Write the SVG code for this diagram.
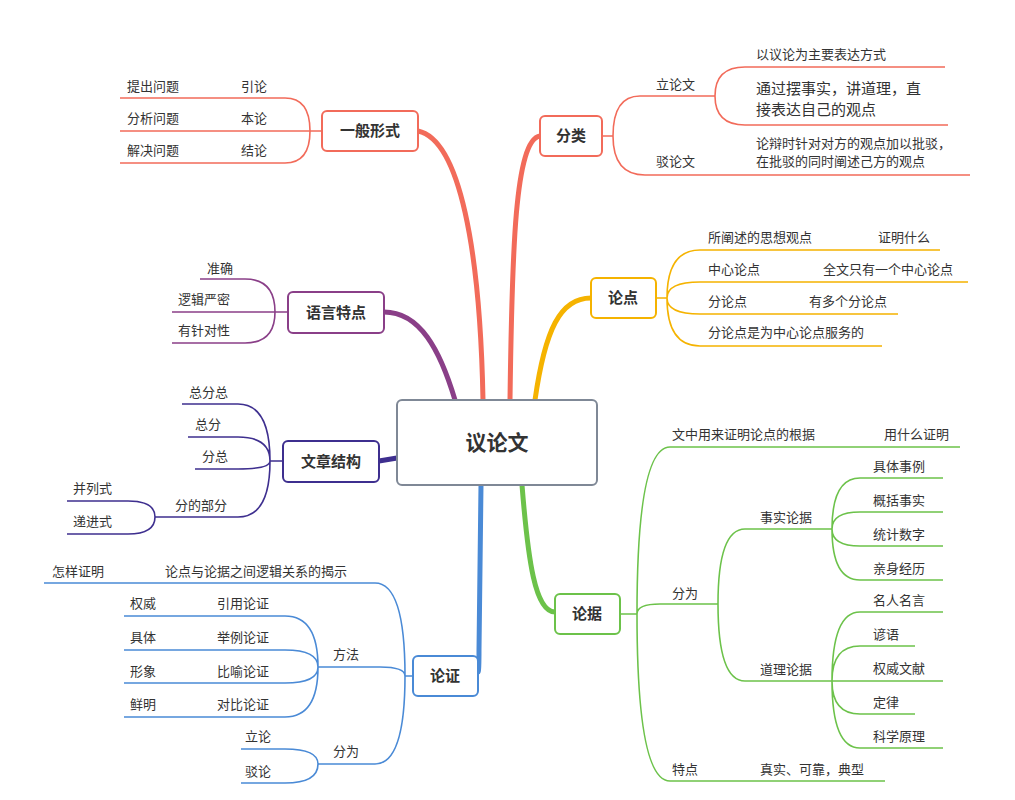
<svg xmlns="http://www.w3.org/2000/svg" width="1015" height="800" viewBox="0 0 1015 800">
<style>
text{font-family:"Noto Sans CJK SC","Liberation Sans",sans-serif;font-size:13px;fill:#333}
.n{font-size:15px;font-weight:bold;text-anchor:middle}
.c{fill:#fff;stroke-width:2}
path{fill:none;stroke-width:1.6}
.m{stroke-width:5;stroke-linecap:round}
.r{stroke:#f26b5a}.p{stroke:#8a3f88}.v{stroke:#3e2f8f}.b{stroke:#4a8ad6}.g{stroke:#6cc24a}.y{stroke:#f5b300}
</style>
<rect width="1015" height="800" fill="#fff"/>
<g id="connectors">
<path class="m r" d="M483,400 C480,250 460,140 418,131"/>
<path class="m p" d="M455,400 C440,350 420,312 384,312"/>
<path class="m v" d="M397,458 L379,461"/>
<path class="m b" d="M481,485 L479,650 Q479,672 478,672"/>
<path class="m r" d="M510,400 C512,250 515,140 540,136"/>
<path class="m y" d="M535,400 C545,330 560,298 591,298"/>
<path class="m g" d="M522,485 C528,560 535,612 555,612"/>
<!-- 一般形式 -->
<path class="r" d="M418,131 H310 M310,131 Q310,98 285,98 H120 M310,131 H120 M310,131 Q310,163 285,163 H120"/>
<!-- 语言特点 -->
<path class="p" d="M288,312 H275 M275,312 Q275,279 245,279 H200 M275,312 H172 M275,312 Q275,343 245,343 H172"/>
<!-- 文章结构 -->
<path class="v" d="M283,461 H270 M270,461 Q270,404 238,404 H182 M270,461 Q270,437 238,437 H188 M270,461 Q270,469 238,469 H195 M270,461 Q270,517 238,517 H155 M155,517 Q155,501 128,501 H67 M155,517 Q155,534 128,534 H67"/>
<!-- 论证 -->
<path class="b" d="M413,676 H405 M405,676 Q405,583 375,583 H44 M405,676 Q405,667 380,667 H318 M405,676 Q405,764 375,764 H318"/>
<path class="b" d="M318,667 Q318,616 285,616 H124 M318,667 Q318,650 285,650 H124 M318,667 Q318,683 285,683 H124 M318,667 Q318,717 285,717 H124 M318,764 Q318,749 285,749 H241 M318,764 Q318,783 285,783 H241"/>
<!-- 分类 -->
<path class="r" d="M602,136 H613 M613,136 Q613,96 640,96 H715 M613,136 Q613,175 645,175 H970 M715,96 Q715,67 745,67 H945 M715,96 Q715,125 745,125 H948"/>
<!-- 论点 -->
<path class="y" d="M656,298 H667 M667,298 Q667,250 700,250 H940 M667,298 Q667,282 700,282 H968 M667,298 Q667,314 700,314 H898 M667,298 Q667,346 700,346 H882"/>
<!-- 论据 -->
<path class="g" d="M620,614 H637 M637,614 Q637,447 670,447 H960 M637,614 Q637,604 660,604 H718 M637,614 Q637,781 670,781 H885 M718,604 Q718,529 745,529 H832 M718,604 Q718,681 745,681 H832"/>
<path class="g" d="M832,529 Q832,478 860,478 H943 M832,529 Q832,512 860,512 H943 M832,529 Q832,546 860,546 H943 M832,529 Q832,580 860,580 H943 M832,681 Q832,612 860,612 H943 M832,681 Q832,646 860,646 H915 M832,681 H943 M832,681 Q832,714 860,714 H915 M832,681 Q832,748 860,748 H943"/>
</g>
<g id="center"><rect class="c" x="397" y="400" width="200" height="85" rx="5" stroke="#7f8896"/><text class="n" x="497" y="450" style="font-size:21px">议论文</text></g>
<g id="n-yiban"><rect class="c" x="322" y="111" width="96" height="40" rx="5" stroke="#f26b5a"/><text class="n" x="370" y="136">一般形式</text>
<text x="127" y="91">提出问题</text><text x="241" y="91">引论</text><text x="127" y="123">分析问题</text><text x="241" y="123">本论</text><text x="127" y="155">解决问题</text><text x="241" y="155">结论</text></g>
<g id="n-yuyan"><rect class="c" x="288" y="292" width="96" height="41" rx="5" stroke="#8a3f88"/><text class="n" x="336" y="318">语言特点</text>
<text x="207" y="273">准确</text><text x="178" y="304">逻辑严密</text><text x="178" y="335">有针对性</text></g>
<g id="n-jiegou"><rect class="c" x="283" y="441" width="96" height="41" rx="5" stroke="#3e2f8f"/><text class="n" x="331" y="467">文章结构</text>
<text x="189" y="397">总分总</text><text x="195" y="429">总分</text><text x="202" y="461">分总</text><text x="175" y="510">分的部分</text><text x="73" y="493">并列式</text><text x="73" y="526">递进式</text></g>
<g id="n-lunzheng"><rect class="c" x="413" y="656" width="65" height="40" rx="5" stroke="#4a8ad6"/><text class="n" x="445" y="681">论证</text>
<text x="52" y="576">怎样证明</text><text x="165" y="576">论点与论据之间逻辑关系的揭示</text>
<text x="333" y="659">方法</text><text x="333" y="756">分为</text>
<text x="130" y="608">权威</text><text x="217" y="608">引用论证</text><text x="130" y="642">具体</text><text x="217" y="642">举例论证</text><text x="130" y="676">形象</text><text x="217" y="676">比喻论证</text><text x="130" y="709">鲜明</text><text x="217" y="709">对比论证</text>
<text x="245" y="741">立论</text><text x="245" y="776">驳论</text></g>
<g id="n-fenlei"><rect class="c" x="540" y="116" width="62" height="40" rx="5" stroke="#f26b5a"/><text class="n" x="571" y="141">分类</text>
<text x="656" y="89">立论文</text><text x="656" y="166">驳论文</text><text x="756" y="59">以议论为主要表达方式</text>
<text x="756" y="94" style="font-size:15px">通过摆事实，讲道理，直</text><text x="756" y="115" style="font-size:15px">接表达自己的观点</text>
<text x="756" y="148">论辩时针对对方的观点加以批驳，</text><text x="756" y="166">在批驳的同时阐述己方的观点</text></g>
<g id="n-lundian"><rect class="c" x="591" y="278" width="65" height="40" rx="5" stroke="#f5b300"/><text class="n" x="623" y="303">论点</text>
<text x="708" y="242">所阐述的思想观点</text><text x="878" y="242">证明什么</text><text x="708" y="274">中心论点</text><text x="823" y="274">全文只有一个中心论点</text><text x="708" y="306">分论点</text><text x="809" y="306">有多个分论点</text><text x="708" y="337">分论点是为中心论点服务的</text></g>
<g id="n-lunju"><rect class="c" x="555" y="594" width="65" height="40" rx="5" stroke="#6cc24a"/><text class="n" x="587" y="619">论据</text>
<text x="672" y="439">文中用来证明论点的根据</text><text x="884" y="439">用什么证明</text><text x="672" y="598">分为</text><text x="672" y="774">特点</text><text x="760" y="774">真实、可靠，典型</text>
<text x="760" y="522">事实论据</text><text x="760" y="674">道理论据</text>
<text x="873" y="471">具体事例</text><text x="873" y="505">概括事实</text><text x="873" y="539">统计数字</text><text x="873" y="573">亲身经历</text>
<text x="873" y="605">名人名言</text><text x="873" y="639">谚语</text><text x="873" y="673">权威文献</text><text x="873" y="707">定律</text><text x="873" y="741">科学原理</text></g>
</svg>
